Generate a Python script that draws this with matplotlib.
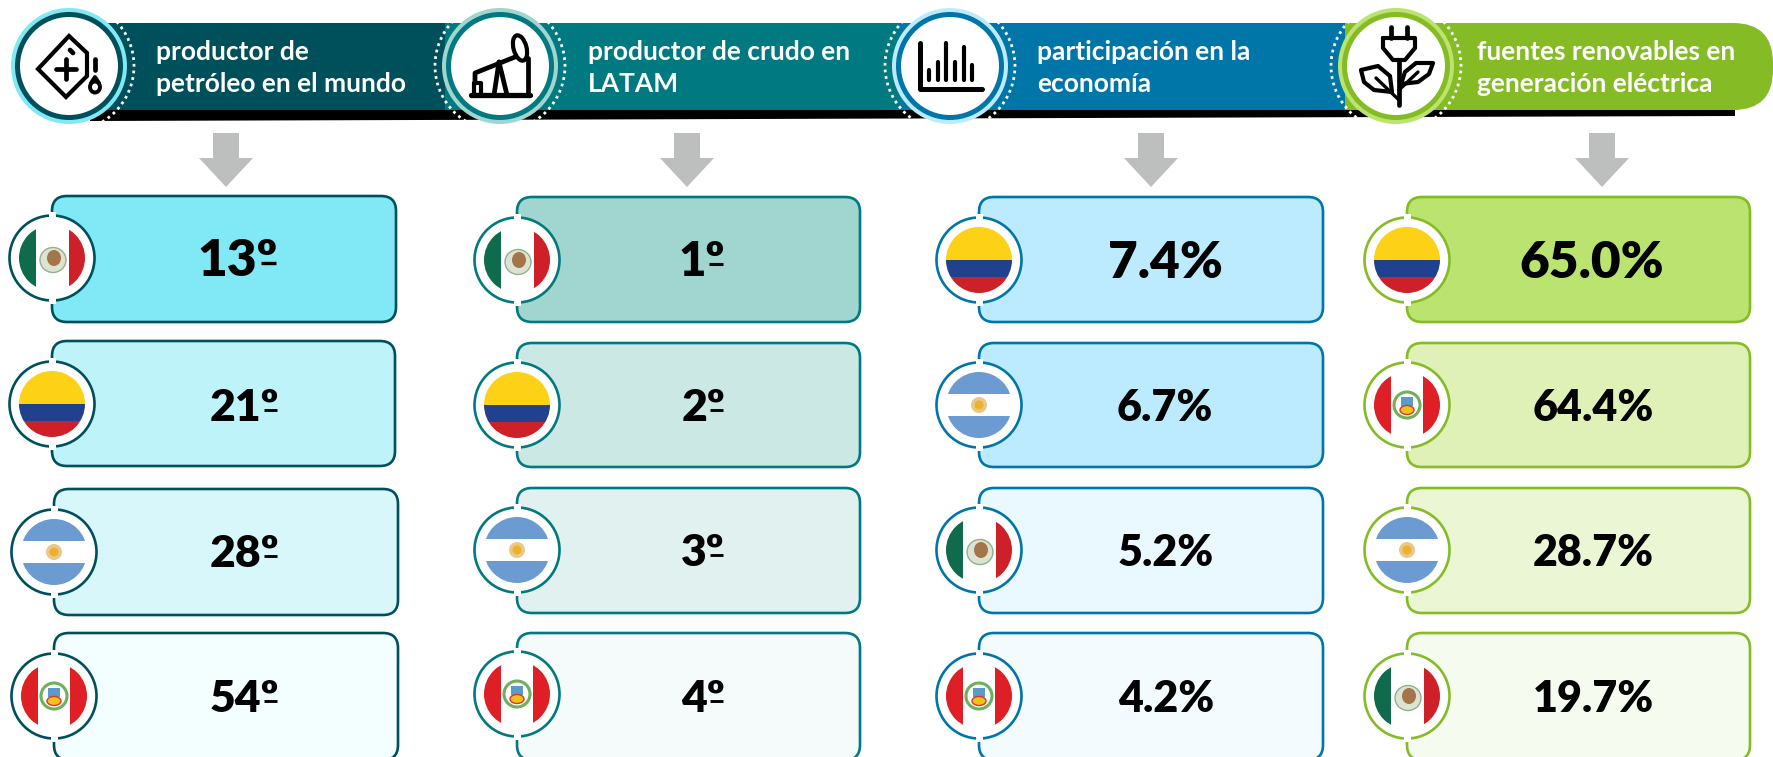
import matplotlib
matplotlib.use('Agg')
import matplotlib.pyplot as plt
from matplotlib.patches import Circle, Ellipse, FancyBboxPatch, Polygon, Rectangle

plt.rcParams['font.family'] = ['Lato', 'DejaVu Sans']

# Chart data
headers = ['productor de\npetróleo en el mundo', 'productor de crudo en\nLATAM',
           'participación en la\neconomía', 'fuentes renovables en\ngeneración eléctrica']
countries = [['mx', 'co', 'ar', 'pe'], ['mx', 'co', 'ar', 'pe'],
             ['co', 'ar', 'mx', 'pe'], ['co', 'pe', 'ar', 'mx']]
values = [['13º', '21º', '28º', '54º'], ['1º', '2º', '3º', '4º'],
          ['7.4%', '6.7%', '5.2%', '4.2%'], ['65.0%', '64.4%', '28.7%', '19.7%']]

# Colours
dark = ['#00505C', '#007A80', '#0076A8', '#85BC25']
light = ['#7FE9F5', '#A0D5D0', '#BCEBFF', '#BBE36F']
fills = [['#80E9F5', '#BFF3FA', '#D7F7FB', '#F2FEFF'],
         ['#A0D5D0', '#CCE8E4', '#E1F1EF', '#F5FBFA'],
         ['#BCEBFF', '#BCEBFF', '#EAF8FF', '#F3FBFF'],
         ['#BBE36F', '#DFF1B7', '#EBF6D5', '#F6FBEF']]

# Layout in pixels
icon_x = [69, 500, 950, 1396]
icon_y = 66
head_text_x = [156, 588, 1037, 1477]
arrow_x = [226, 687, 1151, 1602]
card_left = [[52, 52, 54, 54], [517] * 4, [979] * 4, [1407] * 4]
card_right = [[396, 395, 398, 398], [860] * 4, [1323] * 4, [1750] * 4]
card_top = [[196, 341, 489, 633], [197, 343, 488, 633], [197, 343, 488, 633], [197, 343, 488, 633]]
card_bot = [[322, 466, 615, 760], [322, 467, 613, 760], [322, 467, 613, 760], [322, 467, 613, 760]]
circle_y = [[258, 404, 552, 696], [260, 405, 550, 694], [260, 405, 550, 696], [260, 405, 550, 696]]
value_x = [[238, 244, 244, 244], [702, 703, 703, 703], [1165, 1165, 1166, 1166], [1592, 1593, 1593, 1593]]
value_y = [[261, 408, 554, 699], [262, 408, 553, 699], [263, 408, 553, 699], [263, 408, 553, 699]]
value_size = [[37, 32, 32, 32], [34, 32, 32, 32], [37, 31, 31, 31], [37, 31, 31, 31]]

fig = plt.figure(figsize=(17.73, 7.57), dpi=100)
ax = fig.add_axes([0, 0, 1, 1])
ax.set_xlim(0, 1773)
ax.set_ylim(757, 0)
ax.axis('off')
renderer = fig.canvas.get_renderer()


def line(xs, ys, lw=3.4, zorder=10):
    ax.plot(xs, ys, color='black', lw=lw, solid_capstyle='round', solid_joinstyle='round', zorder=zorder)


def draw_icon(i):
    if i == 0:
        ax.add_patch(Polygon([(69, 36), (87, 53), (87, 76), (66, 97), (38, 69)], closed=True,
                             fill=False, ec='black', lw=3.0, zorder=10))
        line([66, 66], [59, 79])
        line([56, 76], [69, 69])
        line([70, 73], [50, 53])
        line([95, 95], [59, 70])
        ax.add_patch(Ellipse((95, 87), 10, 11, fill=False, ec='black', lw=2.8, zorder=10))
        line([91, 95, 99], [83, 77, 83], lw=2.8)
    elif i == 1:
        line([471, 530], [95, 95], lw=3.8)
        line([474, 474, 481, 481, 474], [95, 83, 83, 95, 95], lw=3.0)
        line([475, 475, 515], [83, 73, 57])
        line([499, 494], [62, 95])
        line([499, 507], [62, 95])
        line([528, 528], [58, 95])
        ax.add_patch(Ellipse((520, 48), 13, 26, angle=-15, fill=False, ec='black', lw=3.0, zorder=10))
    elif i == 2:
        line([920, 920, 982], [43, 89, 89], lw=3.6)
        for bx, top in zip([929, 937.5, 946, 955, 964, 972], [70, 62, 43, 62, 47, 65]):
            line([bx, bx], [top, 80], lw=3.0)
    else:
        line([1391, 1391], [27, 38])
        line([1407, 1407], [27, 38])
        line([1383, 1415, 1415, 1405, 1393, 1383, 1383], [38, 38, 48, 60, 60, 48, 38], lw=3.0)
        line([1399, 1399], [60, 105])
        ax.add_patch(Polygon([(1361, 70), (1378, 66), (1390, 76), (1392, 92), (1374, 90), (1364, 82)], closed=True,
                             fill=False, ec='black', lw=3.0, joinstyle='round', zorder=10))
        ax.add_patch(Polygon([(1433, 63), (1416, 63), (1405, 72), (1401, 84), (1418, 82), (1429, 74)], closed=True,
                             fill=False, ec='black', lw=3.0, joinstyle='round', zorder=10))
        line([1376, 1399], [78, 100], lw=2.4)
        line([1418, 1399], [72, 90], lw=2.4)


def draw_flag(code, cx, cy, ring):
    ax.add_patch(Circle((cx, cy), 42.5, fc='white', ec=ring, lw=1.9, zorder=5))
    clip = Circle((cx, cy), 33, transform=ax.transData)
    parts = []
    if code == 'mx':
        parts.append(Rectangle((cx - 33, cy - 33), 17, 66, fc='#0F6B4B', ec='none'))
        parts.append(Rectangle((cx + 17, cy - 33), 16, 66, fc='#CE2028', ec='none'))
    elif code == 'pe':
        parts.append(Rectangle((cx - 33, cy - 33), 17, 66, fc='#DF1F26', ec='none'))
        parts.append(Rectangle((cx + 16, cy - 33), 17, 66, fc='#DF1F26', ec='none'))
    elif code == 'ar':
        parts.append(Rectangle((cx - 33, cy - 33), 66, 22, fc='#6C9BD2', ec='none'))
        parts.append(Rectangle((cx - 33, cy + 11), 66, 22, fc='#6C9BD2', ec='none'))
    else:
        parts.append(Rectangle((cx - 33, cy - 33), 66, 33, fc='#FCD116', ec='none'))
        parts.append(Rectangle((cx - 33, cy), 66, 17, fc='#21408E', ec='none'))
        parts.append(Rectangle((cx - 33, cy + 17), 66, 16, fc='#CE2028', ec='none'))
    for p in parts:
        p.set_zorder(6)
        ax.add_patch(p)
        p.set_clip_path(clip)
    if code == 'mx':
        ax.add_patch(Ellipse((cx + 1, cy + 2), 26, 25, fc='#DDE3D2', ec='#8FB28A', lw=1.0, zorder=7))
        ax.add_patch(Ellipse((cx + 2, cy), 14, 16, fc='#A3754A', ec='none', zorder=7))
    elif code == 'pe':
        ax.add_patch(Ellipse((cx, cy), 26, 26, fc='none', ec='#6FB05A', lw=2.2, zorder=7))
        ax.add_patch(Rectangle((cx - 6, cy - 8), 12, 9, fc='#5B9BC8', ec='none', zorder=7))
        ax.add_patch(Ellipse((cx, cy + 5), 14, 9, fc='#F2C21A', ec='#D9352B', lw=1, zorder=7))
    elif code == 'ar':
        ax.add_patch(Circle((cx, cy), 8, fc='#E9C88A', ec='none', zorder=7))
        ax.add_patch(Circle((cx, cy), 4.5, fc='#EDB12C', ec='none', zorder=7))
    # small white gaps where the card border meets the ring
    for gy in [cy - 43, cy + 43]:
        ax.add_patch(Rectangle((cx - 3.5, gy - 3), 7, 6, fc='white', ec='none', zorder=8))


# Header band
band_edges = [75, 445, 900, 1345]
ax.add_patch(Polygon([(90, 110), (1735, 110), (1735, 116), (90, 121)], closed=True, fc='black', ec='none', zorder=1))
ax.add_patch(FancyBboxPatch((1280, 23), 493, 87, boxstyle='round,pad=0,rounding_size=40',
                            fc=dark[3], ec='none', zorder=2))
for i in range(3):
    ax.add_patch(Rectangle((band_edges[i], 23), band_edges[i + 1] - band_edges[i], 87, fc=dark[i], ec='none', zorder=2.1))

for i in range(4):
    cx = icon_x[i]
    ax.add_patch(Circle((cx, icon_y), 65, fc='none', ec='white', lw=2.0, ls=(0, (1, 1.4)), zorder=3))
    ax.add_patch(Circle((cx, icon_y), 58, fc=light[i], ec='none', zorder=4))
    ax.add_patch(Circle((cx, icon_y), 54, fc=dark[i], ec='none', zorder=5))
    ax.add_patch(Circle((cx, icon_y), 49, fc='white', ec='none', zorder=6))
    draw_icon(i)
    ax.text(head_text_x[i], 68, headers[i], color='white', fontsize=19, fontweight='bold',
            va='center', ha='left', linespacing=1.42, zorder=9)

    # Arrow
    ax_ = arrow_x[i]
    ax.add_patch(Polygon([(ax_ - 13, 133), (ax_ + 13, 133), (ax_ + 13, 158), (ax_ + 27, 158), (ax_, 187),
                          (ax_ - 27, 158), (ax_ - 13, 158)], closed=True, fc='#BDBEBE', ec='none', zorder=2))

    # Cards
    for j in range(4):
        l, r = card_left[i][j], card_right[i][j]
        t, b = card_top[i][j], card_bot[i][j]
        ax.add_patch(FancyBboxPatch((l, t), r - l, b - t, boxstyle='round,pad=0,rounding_size=15',
                                    fc=fills[i][j], ec=dark[i], lw=1.9, zorder=2))
        draw_flag(countries[i][j], l, circle_y[i][j], dark[i])
        txt = ax.text(value_x[i][j], value_y[i][j], values[i][j], fontsize=value_size[i][j], fontweight='heavy',
                      color='black', ha='center', va='center', zorder=9)
        # the ordinal sign is underlined in the original font
        if values[i][j].endswith('º'):
            right = txt.get_window_extent(renderer).x1
            size = value_size[i][j]
            ax.plot([right - size * 0.46, right - size * 0.06], [value_y[i][j] + size * 0.06] * 2, color='black',
                    lw=size * 0.065, solid_capstyle='butt', zorder=9)

fig.savefig('out.png', dpi=100)
